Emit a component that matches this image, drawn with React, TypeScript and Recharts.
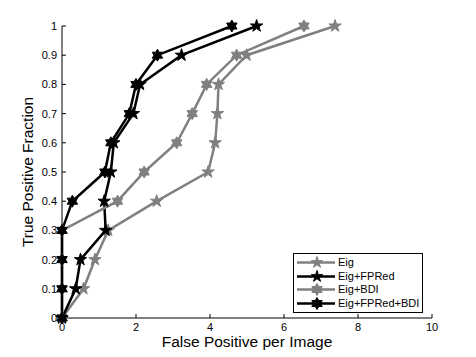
import React from 'react';
import { LineChart, Line, XAxis, YAxis, Legend, Label } from 'recharts';

const tpFraction = [0, 0.1, 0.2, 0.3, 0.4, 0.5, 0.6, 0.7, 0.8, 0.9, 1.0];
const eigFP = [0, 0.58, 0.89, 1.25, 2.56, 3.95, 4.14, 4.2, 4.23, 4.99, 7.38];
const eigFPRedFP = [0, 0.37, 0.5, 1.18, 1.14, 1.32, 1.4, 1.93, 2.11, 3.23, 5.26];
const eigBDIFP = [0, 0, 0, 0, 1.5, 2.22, 3.1, 3.52, 3.91, 4.72, 6.54];
const eigFPRedBDIFP = [0, 0, 0, 0, 0.28, 1.16, 1.32, 1.82, 2.0, 2.58, 4.59];

const xTicks = [0, 2, 4, 6, 8, 10];
const yTicks = [0, 0.1, 0.2, 0.3, 0.4, 0.5, 0.6, 0.7, 0.8, 0.9, 1];

const seriesNames = ['Eig', 'Eig+FPRed', 'Eig+BDI', 'Eig+FPRed+BDI'];
const seriesFP = [eigFP, eigFPRedFP, eigBDIFP, eigFPRedBDIFP];
const seriesColors = ['#808080', '#000000', '#808080', '#000000'];
const seriesMarkers = ['pent', 'pent', 'hex', 'hex'];

const FONT = '"Liberation Sans", Arial, Helvetica, sans-serif';

function starPath(cx: number, cy: number, kind: string, R: number) {
  const n = kind === 'hex' ? 6 : 5;
  const inner = kind === 'hex' ? R * 0.577 : R * 0.382;
  const pts: string[] = [];
  for (let i = 0; i < 2 * n; i++) {
    const a = (-90 + (i * 180) / n) * (Math.PI / 180);
    const r = i % 2 === 0 ? R : inner;
    pts.push(`${(cx + r * Math.cos(a)).toFixed(2)},${(cy + r * Math.sin(a)).toFixed(2)}`);
  }
  return 'M' + pts.join('L') + 'Z';
}

const makeDot = (kind: string, color: string) => (props: any) => {
  const { cx, cy, index } = props;
  if (cx == null || cy == null) return <g key={`d${index}`} />;
  return (
    <path
      key={`d${index}`}
      d={starPath(cx, cy, kind, kind === 'hex' ? 6 : 6.5)}
      fill={color}
      stroke={color}
      strokeWidth={1}
      strokeLinejoin="miter"
    />
  );
};

const LegendBox = () => (
  <div
    style={{
      width: 128,
      height: 56,
      border: '1px solid #000',
      background: '#fff',
      fontFamily: FONT,
      fontSize: 11,
      color: '#000',
      boxSizing: 'content-box',
      paddingTop: 2,
    }}
  >
    {seriesNames.map((name, i) => (
      <div key={name} style={{ display: 'flex', alignItems: 'center', height: 13.5 }}>
        <svg width={44} height={13} style={{ display: 'block' }}>
          <line x1={3} x2={41} y1={6.5} y2={6.5} stroke={seriesColors[i]} strokeWidth={2.5} />
          <path d={starPath(23, 6.5, seriesMarkers[i], 6)} fill={seriesColors[i]} stroke={seriesColors[i]} strokeWidth={1} />
        </svg>
        <span style={{ lineHeight: '13px', whiteSpace: 'nowrap' }}>{name}</span>
      </div>
    ))}
  </div>
);

export default function App() {
  const tables = seriesFP.map((fps) => fps.map((fp, j) => ({ fp, tp: tpFraction[j] })));
  return (
    <div style={{ position: 'absolute', left: 0, top: 0, background: '#fff' }}>
      <LineChart
        width={476}
        height={357}
        margin={{ top: 26, right: 44, bottom: 0, left: 0 }}
        style={{ fontFamily: FONT }}
      >
        <XAxis
          dataKey="fp"
          type="number"
          domain={[0, 10]}
          ticks={xTicks}
          height={39}
          tickSize={-4}
          tickMargin={9}
          stroke="#000"
          tick={{ fill: '#000', fontSize: 11, fontFamily: FONT }}
          allowDecimals
        >
          <Label
            content={() => (
              <text x={247} y={347} textAnchor="middle" fontSize={15.5} fontFamily={FONT} fill="#000">
                False Positive per Image
              </text>
            )}
          />
        </XAxis>
        <XAxis
          xAxisId="top"
          orientation="top"
          dataKey="fp"
          type="number"
          domain={[0, 10]}
          ticks={xTicks}
          height={0}
          tickSize={-4}
          tick={false}
          stroke="#000"
        />
        <YAxis
          dataKey="tp"
          type="number"
          domain={[0, 1]}
          ticks={yTicks}
          width={62}
          tickSize={-4}
          tickMargin={9}
          stroke="#000"
          tick={{ fill: '#000', fontSize: 11, fontFamily: FONT }}
        >
          <Label
            content={() => (
              <text
                x={33}
                y={172}
                textAnchor="middle"
                fontSize={15.5}
                fontFamily={FONT}
                fill="#000"
                transform="rotate(-90 33 172)"
              >
                True Positive Fraction
              </text>
            )}
          />
        </YAxis>
        <YAxis
          yAxisId="right"
          orientation="right"
          dataKey="tp"
          type="number"
          domain={[0, 1]}
          ticks={yTicks}
          width={0}
          tickSize={-4}
          tick={false}
          stroke="#000"
        />
        {tables.map((tbl, i) => (
          <Line
            key={seriesNames[i]}
            data={tbl}
            dataKey="tp"
            name={seriesNames[i]}
            type="linear"
            stroke={seriesColors[i]}
            strokeWidth={2.5}
            dot={makeDot(seriesMarkers[i], seriesColors[i])}
            activeDot={false}
            isAnimationActive={false}
          />
        ))}
        <Legend
          layout="vertical"
          align="center"
          verticalAlign="middle"
          content={() => <LegendBox />}
          wrapperStyle={{ left: 293, top: 253, width: 130, height: 58 }}
        />
      </LineChart>
    </div>
  );
}
